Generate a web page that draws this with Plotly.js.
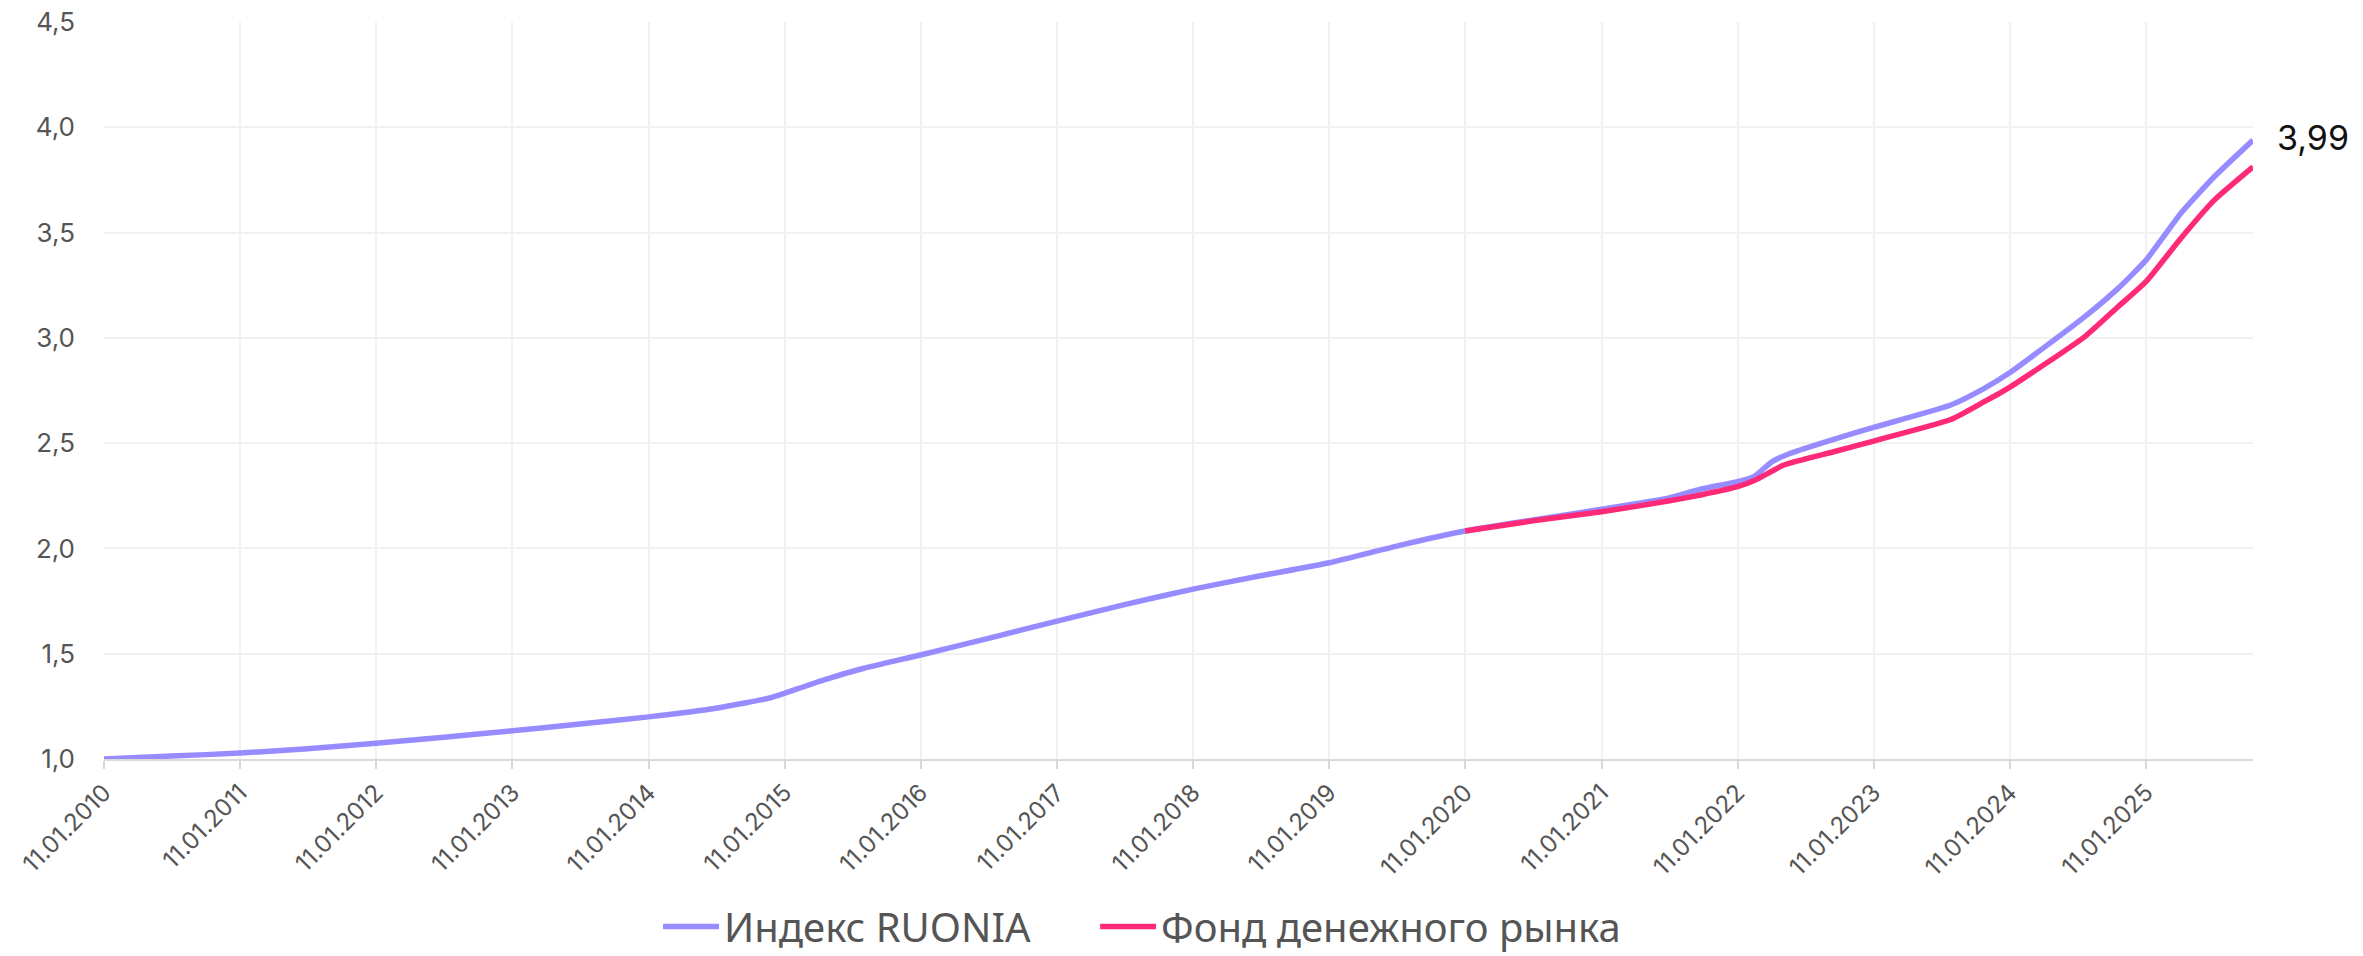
<!DOCTYPE html>
<html>
<head>
<meta charset="utf-8">
<script src="https://cdn.plot.ly/plotly-3.0.1.min.js"></script>
<style>
  html, body { margin: 0; padding: 0; background: #ffffff; }
  #chart { width: 2363px; height: 956px; }
</style>
</head>
<body>
<div id="chart"></div>
<script>
// ---- Data ----
const ruoniaName = 'Индекс RUONIA';
const fundName = 'Фонд денежного рынка';

const ruoniaDates = ['2010-01-11','2010-07-11','2011-01-11','2011-07-11','2012-01-11','2012-07-11',
  '2013-01-11','2013-07-11','2014-01-11','2014-07-11','2014-12-05','2015-01-11','2015-04-25',
  '2015-08-12','2016-01-11','2016-07-11','2017-01-11','2017-07-11','2018-01-11','2018-07-11',
  '2019-01-11','2019-07-22','2020-01-11','2020-07-11','2021-01-11','2021-07-09','2021-10-04',
  '2022-01-11','2022-02-24','2022-04-14','2022-06-02','2022-09-26','2023-01-11','2023-08-06',
  '2023-11-04','2024-01-11','2024-07-30','2024-10-28','2025-01-11','2025-04-14','2025-07-13',
  '2025-10-25'];
const ruoniaValues = [1.000,1.014,1.028,1.049,1.075,1.103,
  1.134,1.166,1.200,1.241,1.291,1.312,1.375,
  1.431,1.494,1.573,1.655,1.733,1.807,1.870,
  1.932,2.016,2.083,2.135,2.186,2.239,2.281,
  2.317,2.341,2.412,2.452,2.518,2.575,2.681,
  2.760,2.834,3.100,3.235,3.369,3.591,3.765,
  3.939];

const fundDates = ['2020-01-11','2020-07-11','2021-01-11','2021-07-09','2021-10-04','2022-01-11',
  '2022-02-28','2022-05-15','2022-09-26','2023-01-11','2023-08-06','2023-11-04','2024-01-11',
  '2024-07-30','2024-10-28','2025-01-11','2025-04-14','2025-07-13','2025-10-25'];
const fundValues = [2.083,2.131,2.174,2.225,2.254,2.293,
  2.325,2.396,2.459,2.510,2.612,2.697,2.765,
  3.005,3.148,3.267,3.472,3.654,3.812];

const lastLabel = '3,99';
const xStart = '2010-01-11';
const xEnd = '2025-10-25';

// ---- Styles ----
const purple = '#968cff';
const pink = '#ff2a77';
const tickFamily = 'Inter, "Noto Sans", sans-serif';
const legendFont = {family: '"Noto Sans", "Open Sans", sans-serif', size: 40, color: '#555555'};

const traces = [
  {x: ruoniaDates, y: ruoniaValues, name: ruoniaName, type: 'scatter', mode: 'lines',
   legend: 'legend',
   line: {color: purple, width: 5.5, shape: 'spline', smoothing: 0.5}, hoverinfo: 'skip'},
  {x: fundDates, y: fundValues, name: fundName, type: 'scatter', mode: 'lines',
   legend: 'legend2',
   line: {color: pink, width: 5.5, shape: 'spline', smoothing: 0.5}, hoverinfo: 'skip'}
];

const layout = {
  width: 2363, height: 956,
  margin: {l: 104, r: 110, t: 22, b: 197, autoexpand: false},
  paper_bgcolor: '#ffffff', plot_bgcolor: '#ffffff',
  separators: ', ',
  showlegend: true,
  legend: {
    orientation: 'h', x: 0.2578, xanchor: 'left', y: -0.1832, yanchor: 'top',
    font: legendFont, itemwidth: 56, itemclick: false, itemdoubleclick: false
  },
  legend2: {
    orientation: 'h', x: 0.4612, xanchor: 'left', y: -0.1832, yanchor: 'top',
    font: legendFont, itemwidth: 56, itemclick: false, itemdoubleclick: false
  },
  xaxis: {
    type: 'date', range: [xStart, xEnd], automargin: false,
    tick0: xStart, dtick: 'M12', tickformat: '%d.%m.%Y', tickangle: -45,
    showgrid: true, gridcolor: '#f1f1f1', gridwidth: 2,
    showline: true, linecolor: '#d9d9d9', linewidth: 2,
    ticks: 'outside', ticklen: 8, tickwidth: 2, tickcolor: '#d9d9d9',
    tickfont: {family: tickFamily, size: 24, color: '#555555'},
    zeroline: false, fixedrange: true
  },
  yaxis: {
    range: [1, 4.5], tick0: 1, dtick: 0.5, tickformat: '.1f', automargin: false,
    showgrid: true, gridcolor: '#f1f1f1', gridwidth: 2,
    showline: false, zeroline: false, ticks: '',
    ticklabelstandoff: 28,
    tickfont: {family: tickFamily, size: 26, color: '#555555'},
    fixedrange: true
  },
  annotations: [{
    x: ruoniaDates[ruoniaDates.length - 1], y: ruoniaValues[ruoniaValues.length - 1],
    xref: 'x', yref: 'y', text: lastLabel, showarrow: false,
    xanchor: 'left', yanchor: 'middle', xshift: 22, yshift: 3,
    font: {family: tickFamily, size: 34, color: '#111111'}
  }]
};

Plotly.newPlot('chart', traces, layout, {displayModeBar: false, staticPlot: true});
</script>
</body>
</html>
